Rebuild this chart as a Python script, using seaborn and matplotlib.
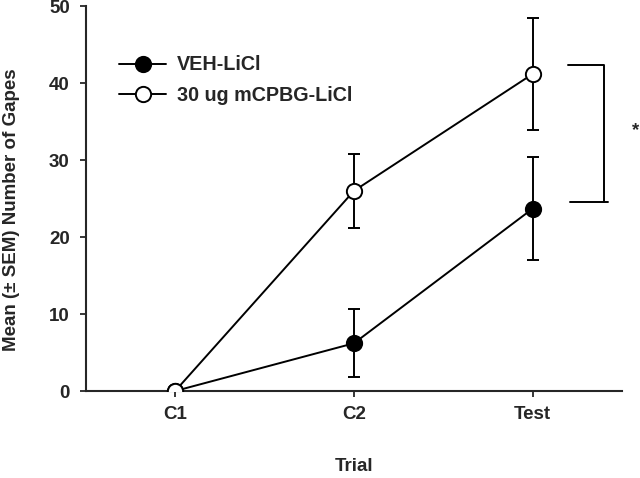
import numpy as np
import pandas as pd
import matplotlib
matplotlib.use("Agg")
import matplotlib.pyplot as plt
import seaborn as sns

# values
trials = ["C1", "C2", "Test"]
veh_mean = [0.0, 6.2, 23.7]
veh_sem = [0.0, 4.4, 6.7]
mcpbg_mean = [0.0, 26.0, 41.2]
mcpbg_sem = [0.0, 4.8, 7.3]
groups = ["VEH-LiCl", "30 ug mCPBG-LiCl"]

df = pd.DataFrame({
    "Trial": trials * 2,
    "Gapes": veh_mean + mcpbg_mean,
    "SEM": veh_sem + mcpbg_sem,
    "Group": [groups[0]] * 3 + [groups[1]] * 3,
})

sns.set_style("ticks")
plt.rcParams["font.family"] = ["Liberation Sans", "DejaVu Sans"]
plt.rcParams["font.weight"] = "bold"
fs = 13.5

fig = plt.figure(figsize=(6.4, 4.78), dpi=100)
ax = fig.add_axes([0.134, 0.182, 0.838, 0.805])

face = {groups[0]: "black", groups[1]: "white"}
for g in groups:
    sub = df[df["Group"] == g]
    ax.errorbar(sub["Trial"], sub["Gapes"], yerr=sub["SEM"], fmt="none",
                ecolor="black", elinewidth=1.4, capsize=4.5, capthick=1.4, zorder=2)
    sns.lineplot(data=sub, x="Trial", y="Gapes", ax=ax, color="black",
                 linewidth=1.4, marker="o", markersize=11,
                 markerfacecolor=face[g], markeredgecolor="black",
                 markeredgewidth=1.4, label=g, zorder=3)

ax.set_xlim(-0.5, 2.5)
ax.set_ylim(0, 50)
ax.set_yticks([0, 10, 20, 30, 40, 50])
ax.set_xlabel("Trial", fontsize=fs, fontweight="bold")
ax.set_ylabel("Mean (\u00b1 SEM) Number of Gapes", fontsize=fs, fontweight="bold")
ax.xaxis.set_label_coords(0.5, -0.175)
ax.yaxis.set_label_coords(-0.122, 0.47)
ax.tick_params(labelsize=fs, length=4.5, width=1.3, direction="out")
ax.tick_params(axis="x", pad=6)
ax.tick_params(axis="y", pad=7)
for lab in ax.get_xticklabels() + ax.get_yticklabels():
    lab.set_fontweight("bold")
sns.despine(ax=ax)
for s in ["left", "bottom"]:
    ax.spines[s].set_linewidth(1.5)

# significance bracket between groups at Test
bx0, bx1 = 2.2, 2.4
by0, by1 = 24.5, 42.3
ax.plot([bx0, bx1, bx1, bx0 + 0.01], [by1, by1, by0, by0], color="black", lw=1.4,
        clip_on=False)
ax.plot([bx1, bx1 + 0.02], [by0, by0], color="black", lw=1.4, clip_on=False)
ax.text(2.578, 33.8, "*", fontsize=fs, fontweight="bold", ha="center", va="center",
        clip_on=False)

leg = ax.legend(loc="upper left", bbox_to_anchor=(0.062, 0.872), frameon=False,
                fontsize=14.2, handlelength=2.4, handletextpad=0.55, labelspacing=0.6,
                borderaxespad=0, borderpad=0)
for t in leg.get_texts():
    t.set_fontweight("bold")

fig.savefig("out.png", dpi=100)
